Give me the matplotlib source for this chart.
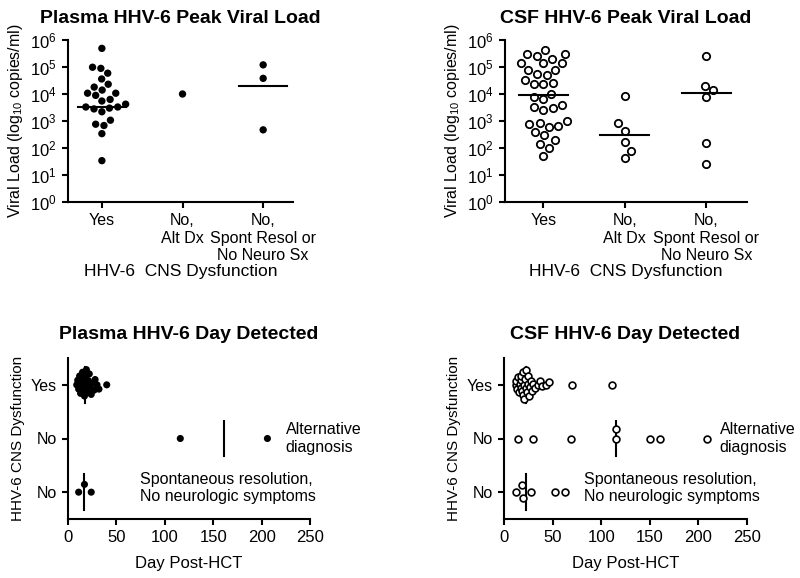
import numpy as np
import matplotlib
matplotlib.use("Agg")
import matplotlib.pyplot as plt

plt.rcParams['font.family'] = ['Liberation Sans', 'DejaVu Sans']

# ---- data ----
groups_vl = ["Yes", "No,\nAlt Dx", "No,\nSpont Resol or\nNo Neuro Sx"]

plasma_vl_yes = [4.9e5, 9.8e4, 8.9e4, 5.9e4, 3.6e4, 2.3e4, 1.8e4, 1.4e4, 1.07e4, 1.07e4,
                 8.9e3, 6.3e3, 5.5e3, 4.2e3, 3.3e3, 3.3e3, 3.0e3, 2.8e3, 2.2e3, 1.07e3,
                 760, 680, 340, 34]
plasma_vl_alt = [1.0e4]
plasma_vl_spont = [1.2e5, 3.8e4, 470]
plasma_vl_median = [3300, None, 2.0e4]

csf_vl_yes = [4.3e5, 3.0e5, 3.0e5, 2.6e5, 1.9e5, 1.4e5, 1.4e5, 1.4e5, 7.8e4, 7.8e4,
              5.5e4, 5.0e4, 3.3e4, 2.6e4, 2.3e4, 2.3e4, 9.8e3, 7.6e3, 6.3e3, 3.9e3,
              3.2e3, 3.0e3, 2.6e3, 1.0e3, 870, 780, 650, 620, 400, 300, 190, 140, 98, 50]
csf_vl_alt = [8500, 820, 440, 170, 80, 44]
csf_vl_spont = [2.6e5, 2.0e4, 1.4e4, 8000, 150, 26]
csf_vl_median = [9000, 300, 1.1e4]

groups_day = ["No", "No", "Yes"]   # bottom -> top

plasma_day_yes = [9, 10, 11, 12, 13, 14, 15, 15, 16, 17, 18, 19, 19, 20, 21, 22, 23, 24,
                  25, 27, 28, 30, 32, 40]
plasma_day_alt = [116, 206]
plasma_day_spont = [11, 17, 24]
plasma_day_median = [18, 161, 17]

csf_day_yes = [12, 12, 13, 14, 15, 16, 17, 18, 18, 19, 20, 20, 21, 21, 22, 23, 23, 24,
               25, 25, 26, 27, 28, 29, 30, 32, 35, 37, 39, 43, 46, 70, 111]
csf_day_alt = [14, 30, 69, 115, 115, 150, 160, 209]
csf_day_spont = [12, 19, 20, 28, 52, 63]
csf_day_median = [23, 115, 23]

day_ticks = [0, 50, 100, 150, 200, 250]


def swarm_offsets(ax, vals, horizontal, d=9.7, half=16.0):
    """Beeswarm offsets in pixels; marker spacing shrinks until the swarm fits in +-half."""
    vals = np.asarray(vals, dtype=float)
    if horizontal:
        pix = ax.transData.transform(np.column_stack([vals, np.ones(len(vals))]))[:, 0]
    else:
        pix = ax.transData.transform(np.column_stack([np.ones(len(vals)), vals]))[:, 1]

    def place(d):
        off = np.zeros(len(pix))
        placed = []
        side = 1.0
        for i in np.argsort(pix):
            v = pix[i]
            near = [(pv, po) for pv, po in placed if abs(pv - v) < d]
            cands = [0.0]
            for pv, po in near:
                w = np.sqrt(d * d - (pv - v) ** 2)
                cands += [po - w, po + w]
            cands.sort(key=lambda c: (round(abs(c), 6), -c * side))
            for c in cands:
                if all((pv - v) ** 2 + (po - c) ** 2 >= d * d - 1e-6 for pv, po in near):
                    off[i] = c
                    break
            if off[i] != 0:
                side = -side
            placed.append((v, off[i]))
        return off

    while True:
        off = place(d)
        if np.abs(off).max() <= half or d < 3:
            return off
        d *= 0.93


def style(ax):
    for sp in ["top", "right"]:
        ax.spines[sp].set_visible(False)
    for sp in ["left", "bottom"]:
        ax.spines[sp].set_linewidth(1.5)
    ax.tick_params(width=1.5, length=4.5, labelsize=12, colors="black")
    ax.tick_params(which="minor", length=0)


def vl_panel(ax, title, data, medians, filled, xlim):
    ax.set_yscale("log")
    ax.set_ylim(1, 1e6)
    ax.set_xlim(*xlim)
    style(ax)
    ax.set_yticks([10.0 ** k for k in range(7)])
    ax.set_xticks([1, 2, 3])
    ax.set_xticklabels(groups_vl, fontsize=11.5)
    ppu = ax.transData.transform((1, 1))[0] - ax.transData.transform((0, 1))[0]
    for g, vals in enumerate(data, start=1):
        off = swarm_offsets(ax, vals, horizontal=False, d=9.7, half=24.0)
        xs = g + off / ppu
        if filled:
            ax.scatter(xs, vals, s=28, c="black", edgecolors="none", zorder=3, clip_on=False)
        else:
            ax.scatter(xs, vals, s=28, facecolors="white", edgecolors="black",
                       linewidths=1.3, zorder=3, clip_on=False)
        m = medians[g - 1]
        if m is not None:
            ax.plot([g - 0.3, g + 0.3], [m, m], color="black", lw=1.5, zorder=4)
    ax.set_ylabel("Viral Load (log$_{\\mathdefault{10}}$ copies/ml)", fontsize=11.5)
    ax.set_xlabel("HHV-6  CNS Dysfunction", fontsize=12.5, labelpad=1)
    ax.set_title(title, fontsize=14, fontweight="bold", pad=12)


def day_panel(ax, title, data, medians, filled):
    ax.set_xlim(0, 250)
    ax.set_ylim(0.5, 3.5)
    style(ax)
    ax.set_xticks(day_ticks)
    ax.set_yticks([1, 2, 3])
    ax.set_yticklabels(groups_day, fontsize=11.5)
    ppu = ax.transData.transform((1, 1))[1] - ax.transData.transform((1, 0))[1]
    for g, vals in enumerate(data, start=1):
        off = swarm_offsets(ax, vals, horizontal=True, d=9.7, half=16.0)
        ys = g + off / ppu
        if filled:
            ax.scatter(vals, ys, s=26, c="black", edgecolors="none", zorder=3, clip_on=False)
        else:
            ax.scatter(vals, ys, s=24, facecolors="white", edgecolors="black",
                       linewidths=1.2, zorder=3, clip_on=False)
        m = medians[g - 1]
        ax.plot([m, m], [g - 0.33, g + 0.33], color="black", lw=1.5, zorder=2)
    ax.set_ylabel("HHV-6 CNS Dysfunction", fontsize=11)
    ax.set_xlabel("Day Post-HCT", fontsize=12, labelpad=8)
    ax.set_title(title, fontsize=14, fontweight="bold", pad=14)


fig = plt.figure(figsize=(8, 5.78), dpi=100)
ax1 = fig.add_axes([68 / 800, 1 - 202 / 578, 225 / 800, 162 / 578])
ax2 = fig.add_axes([505 / 800, 1 - 202 / 578, 242 / 800, 162 / 578])
ax3 = fig.add_axes([68 / 800, 1 - 519 / 578, 242 / 800, 161 / 578])
ax4 = fig.add_axes([504 / 800, 1 - 519 / 578, 243 / 800, 161 / 578])

vl_panel(ax1, "Plasma HHV-6 Peak Viral Load",
         [plasma_vl_yes, plasma_vl_alt, plasma_vl_spont], plasma_vl_median, True, (0.58, 3.37))
vl_panel(ax2, "CSF HHV-6 Peak Viral Load",
         [csf_vl_yes, csf_vl_alt, csf_vl_spont], csf_vl_median, False, (0.53, 3.5))

day_panel(ax3, "Plasma HHV-6 Day Detected",
          [plasma_day_spont, plasma_day_alt, plasma_day_yes],
          [plasma_day_median[2], plasma_day_median[1], plasma_day_median[0]], True)
day_panel(ax4, "CSF HHV-6 Day Detected",
          [csf_day_spont, csf_day_alt, csf_day_yes],
          [csf_day_median[2], csf_day_median[1], csf_day_median[0]], False)

for ax, xa, xs in [(ax3, 225, 74), (ax4, 222, 82)]:
    ax.text(xa, 2.0, "Alternative\ndiagnosis", fontsize=11.5, va="center", ha="left", clip_on=False)
    ax.text(xs, 1.08, "Spontaneous resolution,\nNo neurologic symptoms", fontsize=11.5,
            va="center", ha="left", clip_on=False)

fig.savefig("out.png", dpi=100)
